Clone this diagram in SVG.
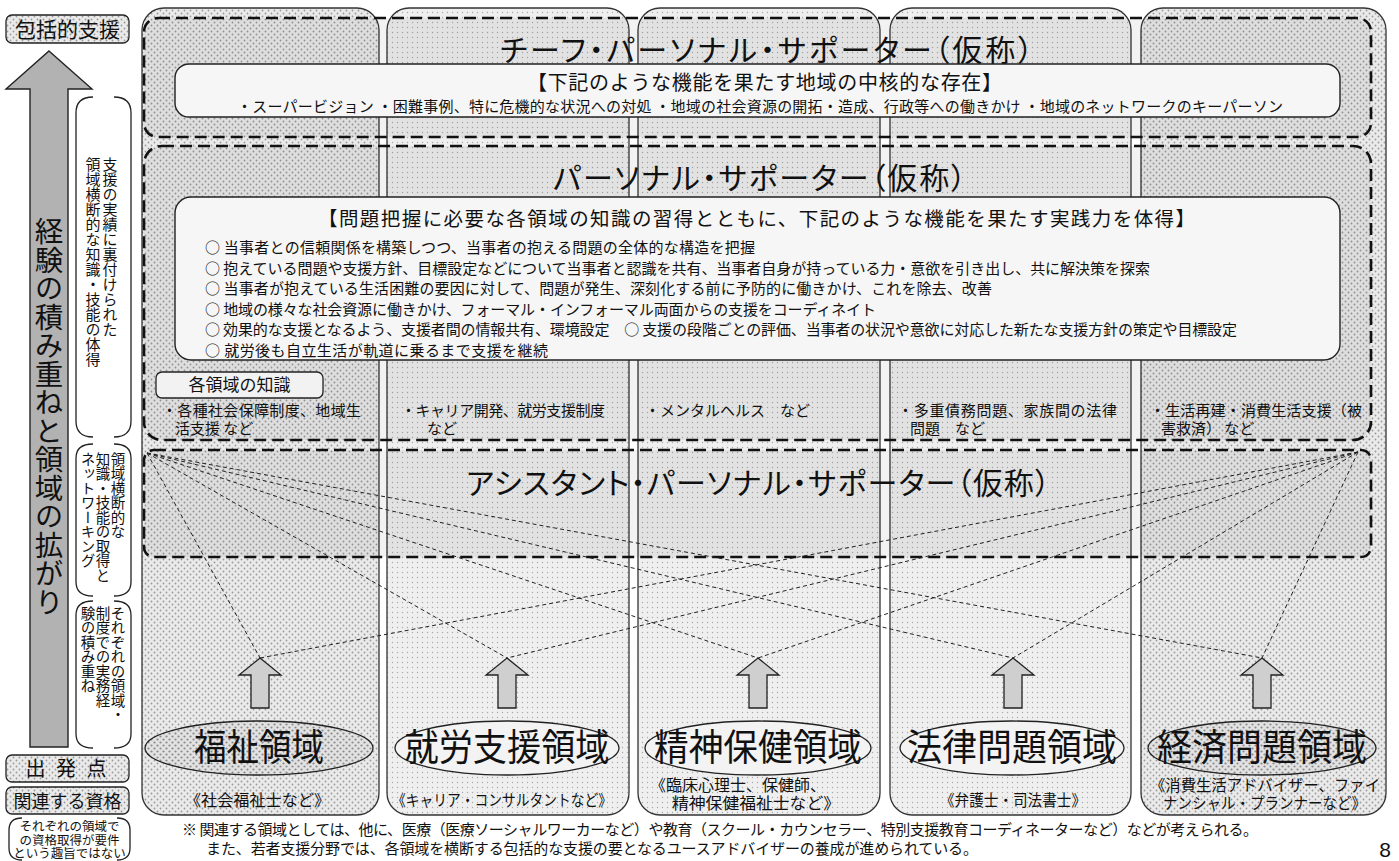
<svg xmlns="http://www.w3.org/2000/svg" width="1399" height="861" viewBox="0 0 1399 861">
<style>
text { font-family: "Noto Sans CJK JP", "Noto Sans", sans-serif; fill: #111; }
.col { fill: url(#pLt); stroke: #333; stroke-width: 1.3; }
.colA { fill: url(#pChk); }
.dash { fill: #000; fill-opacity: 0.05; stroke: #111; stroke-width: 2.6; stroke-dasharray: 12 6; }
.inner { fill: #f6f6f6; stroke: #222; stroke-width: 1.4; }
.conn { fill: none; stroke: #222; stroke-width: 1; stroke-dasharray: 4 3; }
.up { fill: #cfcfcf; stroke: #222; stroke-width: 1.3; }
.oval { fill: #f3f3f3; stroke: #222; stroke-width: 1.3; }
.ovalD { fill: url(#pChkD); }
.lbl { fill: url(#pChk); stroke: #222; stroke-width: 1.3; }
.br { fill: none; stroke: #222; stroke-width: 1.3; }
.vt { writing-mode: vertical-rl; }
.title { font-size: 30px; font-feature-settings: "palt" 1; }
.big { font-size: 37px; }
.cred { font-size: 15.5px; }
.kn { font-size: 15px; }
.bul { font-size: 15px; }
</style>
<defs>
  <pattern id="pChk" width="6" height="6" patternUnits="userSpaceOnUse">
    <rect width="6" height="6" fill="#eaeaea"/>
    <circle cx="1.5" cy="1.5" r="0.9" fill="#9a9a9a"/>
    <circle cx="4.5" cy="4.5" r="0.9" fill="#9a9a9a"/>
  </pattern>
  <pattern id="pChkD" width="6" height="6" patternUnits="userSpaceOnUse">
    <rect width="6" height="6" fill="#e2e2e2"/>
    <circle cx="1.5" cy="1.5" r="1.1" fill="#8a8a8a"/>
    <circle cx="4.5" cy="4.5" r="1.1" fill="#8a8a8a"/>
  </pattern>
  <pattern id="pLt" width="5" height="5" patternUnits="userSpaceOnUse">
    <rect width="5" height="5" fill="#efefef"/>
    <circle cx="2.5" cy="2.5" r="0.7" fill="#a8a8a8"/>
  </pattern>
</defs>

<!-- columns -->
<g id="columns">
  <rect class="col colA" x="142" y="8" width="237" height="807" rx="22"/>
  <rect class="col" x="387" y="8" width="242" height="807" rx="22"/>
  <rect class="col" x="638" y="8" width="242" height="807" rx="22"/>
  <rect class="col" x="890" y="8" width="241" height="807" rx="22"/>
  <rect class="col colA" x="1141" y="8" width="245" height="807" rx="22"/>
</g>

<!-- left side -->
<g id="label-houkatsu">
  <rect class="lbl" x="6" y="15" width="123" height="28" rx="6"/>
  <text x="67.5" y="37" font-size="21" text-anchor="middle">包括的支援</text>
</g>
<g id="big-arrow">
  <polygon points="49,51 92,89 68,89 68,747 30,747 30,89 6,89" fill="#b2b2b2" stroke="#222" stroke-width="1.4"/>
  <text class="vt" x="49" y="217" font-size="28.5">経験の積み重ねと領域の拡がり</text>
</g>
<g id="bracket-1">
  <path class="br" d="M93 97 Q76 97 76 113 L76 421 Q76 437 93 437"/>
  <path class="br" d="M114 97 Q131 97 131 113 L131 421 Q131 437 114 437"/>
  <text class="vt" x="110" y="157" font-size="15">支援の実績に裏付けられた</text>
  <text class="vt" x="93" y="157" font-size="15">領域横断的な知識・技能の体得</text>
</g>
<g id="bracket-2">
  <path class="br" d="M93 444 Q76 444 76 458 L76 582 Q76 596 93 596"/>
  <path class="br" d="M114 444 Q131 444 131 458 L131 582 Q131 596 114 596"/>
  <text class="vt" x="118" y="452" font-size="14.5">領域横断的な</text>
  <text class="vt" x="103" y="452" font-size="14.5">知識・技能の取得と</text>
  <text class="vt" x="88" y="452" font-size="14.5">ネットワーキング</text>
</g>
<g id="bracket-3">
  <path class="br" d="M93 601 Q76 601 76 615 L76 734 Q76 748 93 748"/>
  <path class="br" d="M114 601 Q131 601 131 615 L131 734 Q131 748 114 748"/>
  <text class="vt" x="118" y="606" font-size="14.5">それぞれの領域・</text>
  <text class="vt" x="103" y="606" font-size="14.5">制度での実務経</text>
  <text class="vt" x="88" y="606" font-size="14.5">験の積み重ね</text>
</g>
<g id="label-start">
  <rect class="lbl" x="6" y="755" width="123" height="27" rx="6"/>
  <text x="67.5" y="776" font-size="20" text-anchor="middle" letter-spacing="3">出 発 点</text>
</g>
<g id="label-shikaku">
  <rect class="lbl" x="6" y="787" width="123" height="27" rx="6"/>
  <text x="67.5" y="808" font-size="18" text-anchor="middle">関連する資格</text>
</g>
<g id="note-shikaku">
  <path class="br" d="M22 818 Q9 818 9 830 L9 848 Q9 860 22 860"/>
  <path class="br" d="M117 818 Q130 818 130 830 L130 848 Q130 860 117 860"/>
  <text x="69.5" y="831" font-size="12.5" text-anchor="middle">それぞれの領域で</text>
  <text x="69.5" y="845" font-size="12.5" text-anchor="middle">の資格取得が要件</text>
  <text x="69.5" y="858" font-size="12.5" text-anchor="middle">という趣旨ではない</text>
</g>

<!-- chief personal supporter -->
<g id="chief">
  <rect class="dash" x="144" y="18" width="1227" height="119" rx="14"/>
  <text class="title" x="500" y="61" textLength="533" lengthAdjust="spacing">チーフ・パーソナル・サポーター（仮称）</text>
  <rect class="inner" x="175" y="64" width="1165" height="53" rx="14"/>
  <text x="527" y="90" font-size="20" textLength="475" lengthAdjust="spacing">【下記のような機能を果たす地域の中核的な存在】</text>
  <text x="237" y="112" font-size="15" textLength="1046" lengthAdjust="spacing">・スーパービジョン ・困難事例、特に危機的な状況への対処 ・地域の社会資源の開拓・造成、行政等への働きかけ ・地域のネットワークのキーパーソン</text>
</g>

<!-- personal supporter -->
<g id="personal">
  <rect class="dash" x="144" y="146" width="1227" height="294" rx="18"/>
  <text class="title" x="553" y="189" textLength="413" lengthAdjust="spacing">パーソナル・サポーター（仮称）</text>
  <rect class="inner" x="175" y="197" width="1165" height="163" rx="16"/>
  <text x="318" y="226" font-size="19.5" textLength="877" lengthAdjust="spacing">【問題把握に必要な各領域の知識の習得とともに、下記のような機能を果たす実践力を体得】</text>
  <text class="bul" x="205" y="253" textLength="550" lengthAdjust="spacing">○ 当事者との信頼関係を構築しつつ、当事者の抱える問題の全体的な構造を把握</text>
  <text class="bul" x="205" y="273.5" textLength="945" lengthAdjust="spacing">○ 抱えている問題や支援方針、目標設定などについて当事者と認識を共有、当事者自身が持っている力・意欲を引き出し、共に解決策を探索</text>
  <text class="bul" x="205" y="294" textLength="787" lengthAdjust="spacing">○ 当事者が抱えている生活困難の要因に対して、問題が発生、深刻化する前に予防的に働きかけ、これを除去、改善</text>
  <text class="bul" x="205" y="314.5" textLength="671" lengthAdjust="spacing">○ 地域の様々な社会資源に働きかけ、フォーマル・インフォーマル両面からの支援をコーディネイト</text>
  <text class="bul" x="205" y="335" textLength="1032" lengthAdjust="spacing">○ 効果的な支援となるよう、支援者間の情報共有、環境設定　○ 支援の段階ごとの評価、当事者の状況や意欲に対応した新たな支援方針の策定や目標設定</text>
  <text class="bul" x="205" y="355.5" textLength="343" lengthAdjust="spacing">○ 就労後も自立生活が軌道に乗るまで支援を継続</text>
</g>
<g id="knowledge">
  <rect x="156" y="372" width="167" height="26" rx="6" fill="#f2f2f2" stroke="#222" stroke-width="1.3"/>
  <text x="239.5" y="391" font-size="17" text-anchor="middle">各領域の知識</text>
  <text class="kn" x="162" y="416" textLength="199" lengthAdjust="spacing">・各種社会保障制度、地域生</text>
  <text class="kn" x="175" y="434">活支援 など</text>
  <text class="kn" x="401" y="416" textLength="204" lengthAdjust="spacing">・キャリア開発、就労支援制度</text>
  <text class="kn" x="427" y="434">など</text>
  <text class="kn" x="645" y="416">・メンタルヘルス　など</text>
  <text class="kn" x="898" y="416" textLength="219" lengthAdjust="spacing">・多重債務問題、家族間の法律</text>
  <text class="kn" x="910" y="434">問題　など</text>
  <text class="kn" x="1150" y="416" textLength="212" lengthAdjust="spacing">・生活再建・消費生活支援（被</text>
  <text class="kn" x="1161" y="434">害救済） など</text>
</g>

<!-- assistant personal supporter -->
<g id="assistant">
  <rect class="dash" x="144" y="450" width="1227" height="107" rx="10"/>
  <text class="title" x="466" y="494" textLength="584" lengthAdjust="spacing">アシスタント・パーソナル・サポーター（仮称）</text>
</g>

<!-- connectors -->
<g id="connectors">
  <line class="conn" x1="147" y1="453" x2="260" y2="658"/>
  <line class="conn" x1="147" y1="453" x2="507" y2="658"/>
  <line class="conn" x1="147" y1="453" x2="758" y2="658"/>
  <line class="conn" x1="147" y1="453" x2="1013" y2="658"/>
  <line class="conn" x1="147" y1="453" x2="1262" y2="658"/>
  <line class="conn" x1="1358" y1="452" x2="260" y2="658"/>
  <line class="conn" x1="1358" y1="452" x2="507" y2="658"/>
  <line class="conn" x1="1358" y1="452" x2="758" y2="658"/>
  <line class="conn" x1="1358" y1="452" x2="1013" y2="658"/>
  <line class="conn" x1="1358" y1="452" x2="1262" y2="658"/>
</g>

<!-- domains -->
<g id="domain-fukushi">
  <polygon class="up" points="260,658 281,675 269,675 269,708 251,708 251,675 239,675"/>
  <ellipse class="oval ovalD" cx="259" cy="748" rx="114" ry="27"/>
  <text class="big" x="259" y="761" text-anchor="middle" textLength="130" lengthAdjust="spacingAndGlyphs">福祉領域</text>
  <text class="cred" x="185" y="806" textLength="145" lengthAdjust="spacingAndGlyphs">《社会福祉士など》</text>
</g>
<g id="domain-shuro">
  <polygon class="up" points="507,658 528,675 516,675 516,708 498,708 498,675 486,675"/>
  <ellipse class="oval" cx="507" cy="748" rx="112" ry="27"/>
  <text class="big" x="507" y="761" text-anchor="middle" textLength="205" lengthAdjust="spacingAndGlyphs">就労支援領域</text>
  <text class="cred" x="392" y="806" textLength="220" lengthAdjust="spacingAndGlyphs">《キャリア・コンサルタントなど》</text>
</g>
<g id="domain-seishin">
  <polygon class="up" points="758,658 779,675 767,675 767,708 749,708 749,675 737,675"/>
  <ellipse class="oval" cx="758" cy="748" rx="113" ry="27"/>
  <text class="big" x="758" y="761" text-anchor="middle" textLength="208" lengthAdjust="spacingAndGlyphs">精神保健領域</text>
  <text class="cred" x="650" y="791" textLength="176" lengthAdjust="spacingAndGlyphs">《臨床心理士、保健師、</text>
  <text class="cred" x="672" y="809" textLength="168" lengthAdjust="spacingAndGlyphs">精神保健福祉士など》</text>
</g>
<g id="domain-horitsu">
  <polygon class="up" points="1013,658 1034,675 1022,675 1022,708 1004,708 1004,675 992,675"/>
  <ellipse class="oval" cx="1012" cy="748" rx="112" ry="27"/>
  <text class="big" x="1012" y="761" text-anchor="middle" textLength="210" lengthAdjust="spacingAndGlyphs">法律問題領域</text>
  <text class="cred" x="940" y="806" textLength="146" lengthAdjust="spacingAndGlyphs">《弁護士・司法書士》</text>
</g>
<g id="domain-keizai">
  <polygon class="up" points="1262,658 1283,675 1271,675 1271,708 1253,708 1253,675 1241,675"/>
  <ellipse class="oval ovalD" cx="1262" cy="748" rx="114" ry="27"/>
  <text class="big" x="1262" y="761" text-anchor="middle" textLength="210" lengthAdjust="spacingAndGlyphs">経済問題領域</text>
  <text class="cred" x="1150" y="791" textLength="230" lengthAdjust="spacingAndGlyphs">《消費生活アドバイザー、ファイ</text>
  <text class="cred" x="1163" y="809" textLength="203" lengthAdjust="spacingAndGlyphs">ナンシャル・プランナーなど》</text>
</g>

<!-- footnote -->
<g id="footnote">
  <text x="182" y="835" font-size="15" textLength="1076" lengthAdjust="spacing">※ 関連する領域としては、他に、医療（医療ソーシャルワーカーなど）や教育（スクール・カウンセラー、特別支援教育コーディネーターなど）などが考えられる。</text>
  <text x="206" y="854" font-size="15" textLength="772" lengthAdjust="spacing">また、若者支援分野では、各領域を横断する包括的な支援の要となるユースアドバイザーの養成が進められている。</text>
  <text x="1385" y="857" font-size="21" text-anchor="middle" style="font-family: 'Liberation Sans', sans-serif">8</text>
</g>
</svg>
